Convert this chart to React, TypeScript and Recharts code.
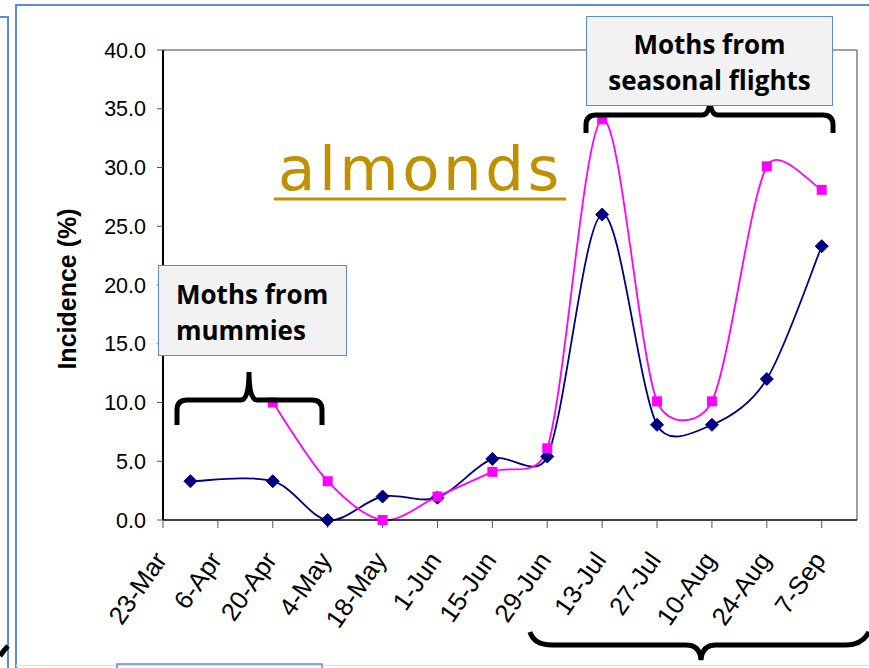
import { LineChart, Line, XAxis, YAxis, ReferenceLine } from 'recharts'

// sampling dates (day-month) and incidence (%) per series
const sampleDates = ['30-Mar', '20-Apr', '4-May', '18-May', '1-Jun', '15-Jun', '29-Jun', '13-Jul', '27-Jul', '10-Aug', '24-Aug', '7-Sep']
const navySeries = [3.3, 3.3, 0.0, 2.0, 1.9, 5.2, 5.4, 26.0, 8.1, 8.1, 12.0, 23.3]
const pinkSeries = [null, 10.0, 3.3, 0.0, 2.0, 4.1, 6.1, 34.1, 10.1, 10.1, 30.1, 28.1]

const tickDates = ['23-Mar', '6-Apr', '20-Apr', '4-May', '18-May', '1-Jun', '15-Jun', '29-Jun', '13-Jul', '27-Jul', '10-Aug', '24-Aug', '7-Sep']
const axisStart = '23-Mar'
const axisEnd = '16-Sep'
const yTicks = [0, 5, 10, 15, 20, 25, 30, 35, 40]

const MONTHS: Record<string, number> = { Jan: 0, Feb: 1, Mar: 2, Apr: 3, May: 4, Jun: 5, Jul: 6, Aug: 7, Sep: 8, Oct: 9, Nov: 10, Dec: 11 }
const toUtc = (s: string) => {
  const [d, m] = s.split('-')
  return Date.UTC(2009, MONTHS[m], Number(d))
}
const dayOf = (s: string) => Math.round((toUtc(s) - toUtc(axisStart)) / 86400000)

const rows = sampleDates.map((d, i) => ({ day: dayOf(d), navy: navySeries[i], pink: pinkSeries[i] }))
const tickDays = tickDates.map(dayOf)

const NAVY = '#000080'
const PINK = '#FF00FF'
const FRAME = '#5B8BD3'
const AXIS_FONT = '"Liberation Sans", Arial, sans-serif'
const BOX_FONT = '"Open Sans", "Noto Sans", sans-serif'

// Excel-ish smoothed line: cubic bezier with neighbour tangents, damped next to long segments
function excelSmooth(context: any) {
  let pts: number[][] = []
  const dist = (a: number[], b: number[]) => Math.hypot(b[0] - a[0], b[1] - a[1])
  return {
    areaStart() {},
    areaEnd() {},
    lineStart() { pts = [] },
    point(x: number, y: number) { pts.push([+x, +y]) },
    lineEnd() {
      const n = pts.length
      if (!n) return
      context.moveTo(pts[0][0], pts[0][1])
      if (n === 1) { context.lineTo(pts[0][0], pts[0][1]); return }
      for (let i = 0; i < n - 1; i++) {
        const p0 = pts[Math.max(i - 1, 0)], p1 = pts[i], p2 = pts[i + 1], p3 = pts[Math.min(i + 2, n - 1)]
        const d01 = dist(p0, p1), d12 = dist(p1, p2), d23 = dist(p2, p3)
        const f1 = Math.sqrt(Math.min(1, (2 * d12) / (d01 + d12 || 1))) / 6
        const f2 = Math.sqrt(Math.min(1, (2 * d12) / (d12 + d23 || 1))) / 6
        context.bezierCurveTo(
          p1[0] + (p2[0] - p0[0]) * f1, p1[1] + (p2[1] - p0[1]) * f1,
          p2[0] - (p3[0] - p1[0]) * f2, p2[1] - (p3[1] - p1[1]) * f2,
          p2[0], p2[1],
        )
      }
    },
  }
}

function Diamond(props: any) {
  const { cx, cy, index } = props
  if (cx == null || cy == null) return <g key={`d${index}`} />
  const r = 6.5
  return <polygon key={`d${index}`} points={`${cx},${cy - r} ${cx + r},${cy} ${cx},${cy + r} ${cx - r},${cy}`} fill={NAVY} stroke={NAVY} strokeWidth={1} />
}

function Square(props: any) {
  const { cx, cy, index, value } = props
  if (cx == null || cy == null || value == null) return <g key={`s${index}`} />
  const r = 5
  return <rect key={`s${index}`} x={cx - r} y={cy - r} width={2 * r} height={2 * r} fill={PINK} />
}

function DateTick({ x, y, payload }: any) {
  const label = tickDates[tickDays.indexOf(payload.value)] ?? ''
  const ax = x + 5
  const ay = y + 30
  return (
    <text x={ax} y={ay} transform={`rotate(-55, ${ax}, ${ay})`} textAnchor="end" fontSize={25.5} fontFamily={AXIS_FONT} fill="#000">
      {label}
    </text>
  )
}

function ValueTick({ x, y, payload }: any) {
  return (
    <text x={x - 9} y={y} dy="0.36em" textAnchor="end" fontSize={21.5} fontFamily={AXIS_FONT} fill="#000">
      {Number(payload.value).toFixed(1)}
    </text>
  )
}

function bracePath(x0: number, x1: number, yEnd: number, yBar: number, xTip: number, yTip: number, r = 10) {
  const dir = yTip < yBar ? -1 : 1
  return [
    `M ${x0} ${yEnd}`,
    `L ${x0} ${yBar - dir * r}`,
    `Q ${x0} ${yBar} ${x0 + r} ${yBar}`,
    `L ${xTip - 8} ${yBar}`,
    `Q ${xTip} ${yBar} ${xTip} ${yTip}`,
    `Q ${xTip} ${yBar} ${xTip + 8} ${yBar}`,
    `L ${x1 - r} ${yBar}`,
    `Q ${x1} ${yBar} ${x1} ${yBar - dir * r}`,
    `L ${x1} ${yEnd}`,
  ].join(' ')
}

const boxStyle: React.CSSProperties = {
  position: 'absolute',
  background: '#F2F2F2',
  border: `1.5px solid ${FRAME}`,
  boxSizing: 'border-box',
  fontFamily: BOX_FONT,
  fontWeight: 700,
  fontSize: 26,
  lineHeight: '36px',
  color: '#000',
}

export default function App() {
  return (
    <div style={{ position: 'absolute', left: 0, top: 0, width: 869, height: 668, background: '#fff', overflow: 'hidden' }}>
      <LineChart width={869} height={668} data={rows} margin={{ top: 50, right: 12, left: 0, bottom: 0 }}>
        <XAxis
          type="number"
          dataKey="day"
          domain={[0, dayOf(axisEnd)]}
          ticks={tickDays}
          interval={0}
          allowDataOverflow
          height={148}
          tick={<DateTick />}
          tickSize={8}
          tickLine={{ stroke: '#555' }}
          axisLine={{ stroke: '#000', strokeWidth: 1.5 }}
        />
        <YAxis
          type="number"
          domain={[0, 40]}
          ticks={yTicks}
          interval={0}
          width={163}
          tick={<ValueTick />}
          tickSize={6}
          tickLine={{ stroke: '#555' }}
          axisLine={{ stroke: '#000', strokeWidth: 2 }}
        />
        <ReferenceLine y={40} stroke="#404040" strokeWidth={1} />
        <ReferenceLine x={dayOf(axisEnd)} stroke="#404040" strokeWidth={1} />
        <Line dataKey="navy" type={excelSmooth as any} stroke={NAVY} strokeWidth={1.8} dot={Diamond} activeDot={false} isAnimationActive={false} />
        <Line dataKey="pink" type={excelSmooth as any} stroke={PINK} strokeWidth={1.8} dot={Square} activeDot={false} isAnimationActive={false} />
      </LineChart>

      <svg width={869} height={668} style={{ position: 'absolute', left: 0, top: 0, pointerEvents: 'none' }}>
        {/* slide frames */}
        <path d="M 16 668 L 16 5 L 869 5" fill="none" stroke={FRAME} strokeWidth={2} />
        <path d="M 0 17 L 8 17 L 8 668" fill="none" stroke={FRAME} strokeWidth={2} />
        <line x1={16} y1={665.5} x2={869} y2={665.5} stroke="#DDE3EC" strokeWidth={1.5} />
        <path d="M 117 672 L 117 664 L 322 664 L 322 672" fill="none" stroke={FRAME} strokeWidth={1.5} />

        <text x={67} y={289} transform="rotate(-90, 67, 289)" textAnchor="middle" dominantBaseline="central" fontSize={25} fontWeight={700} fontFamily={AXIS_FONT} fill="#000">
          Incidence (%)
        </text>

        <text x={278} y={190} fontSize={61} fontFamily='"DejaVu Sans", sans-serif' fill="#BF9000" letterSpacing={3.5}>
          almonds
        </text>
        <line x1={274} y1={199} x2={566} y2={199} stroke="#BF9000" strokeWidth={3} />

        <g fill="none" stroke="#000" strokeWidth={5}>
          <path d={bracePath(177, 322, 425, 400, 249, 372)} />
          <path d={bracePath(586, 833, 133, 115, 710, 97)} />
          <path d="M 530 632 Q 534 645 552 645 L 686 645 Q 700 645 701 660 Q 702 645 716 645 L 846 645 Q 862 645 869 632" />
          <path d="M 0 656 Q 4 650 8 646" />
        </g>
      </svg>

      <div style={{ ...boxStyle, left: 586, top: 16, width: 247, height: 90, textAlign: 'center', paddingTop: 9 }}>
        Moths from
        <br />
        seasonal flights
      </div>
      <div style={{ ...boxStyle, left: 158, top: 265, width: 189, height: 91, paddingLeft: 17, paddingTop: 10 }}>
        Moths from
        <br />
        mummies
      </div>
    </div>
  )
}
